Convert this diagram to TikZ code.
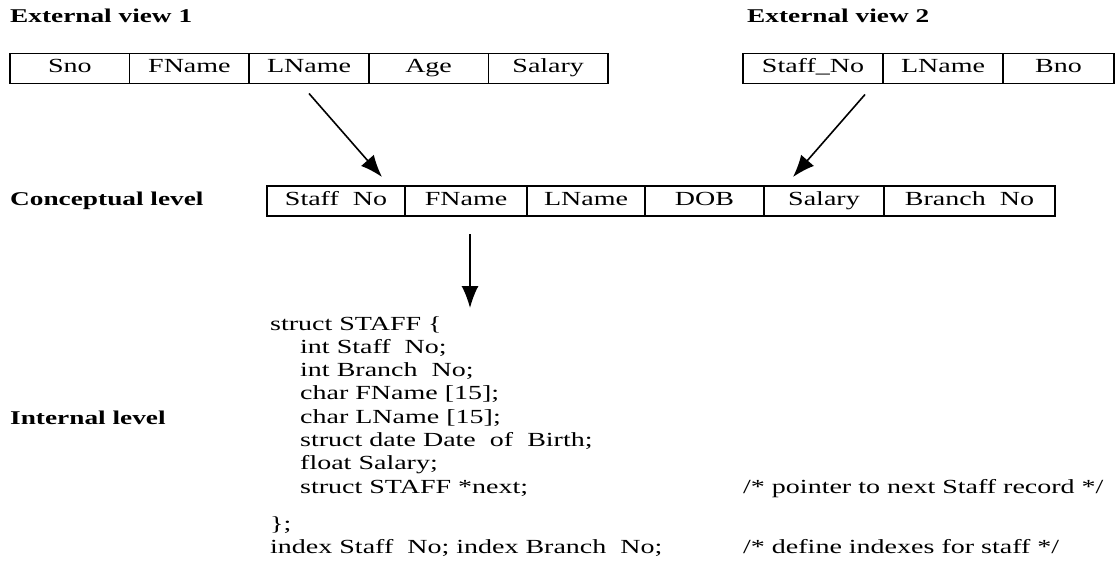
\documentclass[tikz,border=0pt]{standalone}
\usepackage{fontspec}
\setmainfont[FakeStretch=1.4]{Liberation Serif}
\usetikzlibrary{arrows.meta,positioning,calc}

\begin{document}
\begin{tikzpicture}[x=1pt,y=-1pt,
  every node/.style={font=\fontsize{20}{23.3}\selectfont},
  cell/.style={draw,line width=1.6pt,minimum height=30pt,inner sep=0pt,outer sep=0pt,
    text height=13pt,text depth=4pt},
  title/.style={anchor=west,inner sep=0pt,font=\fontsize{19.5}{23.3}\selectfont\bfseries},
  codeline/.style={anchor=west,inner sep=0pt,text height=14pt,text depth=4pt},
  link/.style={line width=1.6pt,-{Latex[length=22pt,width=17pt]}}]
% ==========================================
\useasboundingbox (0,0) rectangle (1116,588);
%
\node[title] (extone) at (10,16) {External view 1};
\node[title] (exttwo) at (747,16) {External view 2};
\node[title] (conc) at (10,201) {Conceptual level};
\node[title] (intl) at (10,418) {Internal level};
%
% External view 1
\node[cell,minimum width=119.6pt,anchor=west] (e1sno) at (10,68.5) {Sno};
\node[cell,minimum width=119.6pt,right=0pt of e1sno] (e1fname) {FName};
\node[cell,minimum width=119.6pt,right=0pt of e1fname] (e1lname) {LName};
\node[cell,minimum width=119.6pt,right=0pt of e1lname] (e1age) {Age};
\node[cell,minimum width=119.6pt,right=0pt of e1age] (e1salary) {Salary};
%
% External view 2
\node[cell,minimum width=140pt,anchor=west] (e2staff) at (743,68.5) {Staff\_No};
\node[cell,minimum width=120pt,right=0pt of e2staff] (e2lname) {LName};
\node[cell,minimum width=111pt,right=0pt of e2lname] (e2bno) {Bno};
%
% Conceptual level
\node[cell,minimum width=138pt,anchor=west] (cstaff) at (267,201) {Staff~ No};
\node[cell,minimum width=122pt,right=0pt of cstaff] (cfname) {FName};
\node[cell,minimum width=118pt,right=0pt of cfname] (clname) {LName};
\node[cell,minimum width=119pt,right=0pt of clname] (cdob) {DOB};
\node[cell,minimum width=120pt,right=0pt of cdob] (csalary) {Salary};
\node[cell,minimum width=171pt,right=0pt of csalary] (cbranch) {Branch~ No};
%
\draw[link] ([yshift=-10pt]e1lname.south) -- ([xshift=-23pt,yshift=9pt]cstaff.north east);%Arrow.
\draw[link] ([xshift=-18pt,yshift=-11pt]e2staff.south east) -- ([xshift=-31pt,yshift=9pt]csalary.north);%Arrow.
\draw[link] ([xshift=4pt,yshift=-18pt]cfname.south) -- ([xshift=4pt,yshift=-92pt]cfname.south);%Arrow.
%
% Internal level
\node[codeline] (hdr) at (270,325) {struct STAFF \{};
\foreach \ln [count=\i] in {int Staff~ No;, int Branch~ No;, char FName [15];, char LName [15];,
  struct date Date~ of~ Birth;, float Salary;, struct STAFF *next;}
  \node[codeline] (fld\i) at (300,325+23.3*\i) {\ln};
\node[codeline] (tail) at (270,525) {\};};
\node[codeline] (idx) at (270,548) {index Staff~ No; index Branch~ No;};
\node[codeline] (cmtnext) at (743,488) {/* pointer to next Staff record */};
\node[codeline] (cmtidx) at (743,548) {/* define indexes for staff */};
% =============================================
\end{tikzpicture}
\end{document}
